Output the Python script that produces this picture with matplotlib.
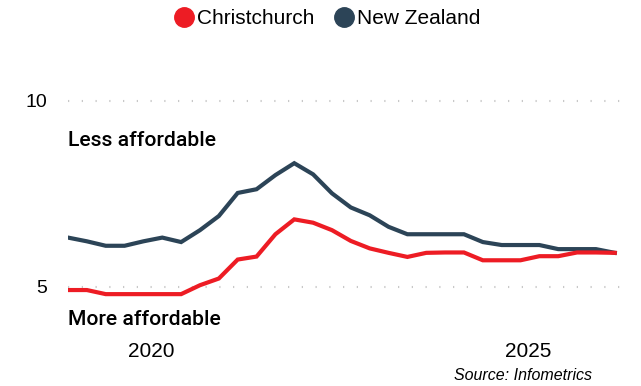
import matplotlib
matplotlib.use("Agg")
import matplotlib.pyplot as plt
import numpy as np

# house price to income ratio, quarterly
start_year = 2018.894
christchurch = [4.91, 4.91, 4.80, 4.80, 4.80, 4.80, 4.80, 5.04, 5.22, 5.73,
                5.81, 6.41, 6.81, 6.72, 6.52, 6.23, 6.03, 5.91, 5.80, 5.91,
                5.92, 5.92, 5.71, 5.71, 5.71, 5.82, 5.82, 5.92, 5.92, 5.91]
new_zealand = [6.32, 6.22, 6.10, 6.10, 6.22, 6.32, 6.20, 6.52, 6.90, 7.52,
               7.62, 8.00, 8.32, 8.02, 7.51, 7.13, 6.92, 6.61, 6.41, 6.41,
               6.41, 6.41, 6.20, 6.12, 6.12, 6.12, 6.01, 6.01, 6.01, 5.91]
years = start_year + 0.25 * np.arange(len(christchurch))
year_ticks = [2020, 2025]

red = "#ED1C24"
navy = "#2C4457"

fig = plt.figure(figsize=(6.41, 3.86), dpi=100)
ax = fig.add_axes([0.1061, 0.1609, 0.8736, 0.6264])

for y in [5, 10]:
    ax.axhline(y, color="#c8c8c8", lw=1.5, ls=(0, (0.6, 6.0)), zorder=0)

ax.plot(years, new_zealand, color=navy, lw=3, solid_joinstyle="miter")
ax.plot(years, christchurch, color=red, lw=3, solid_joinstyle="miter")

ax.set_xlim(start_year, start_year + 29.7 * 0.25)
ax.set_ylim(4, 10.5)
ax.set_yticks([5, 10])
ax.set_yticklabels(["5", "10"], fontsize=14, family="Liberation Sans")
ax.set_xticks(year_ticks)
ax.set_xticklabels([str(y) for y in year_ticks], fontsize=15, family="Liberation Sans")
ax.tick_params(axis="y", length=0, pad=15)
ax.tick_params(axis="x", length=0, pad=13)
for s in ax.spines.values():
    s.set_visible(False)

ax.text(start_year, 8.92, "Less affordable", fontsize=15.2, family="Roboto",
        weight="medium", ha="left", va="center")
ax.text(start_year, 4.13, "More affordable", fontsize=15.2, family="Roboto",
        weight="medium", ha="left", va="center")

fig.text(592 / 641, 1 - 375 / 386, "Source: Infometrics", fontsize=11.5,
         family="Liberation Sans", style="italic", ha="right", va="center")

h1, = ax.plot([], [], "o", color=red, ms=14)
h2, = ax.plot([], [], "o", color=navy, ms=14)
fig.legend([h1, h2], ["Christchurch", "New Zealand"], loc="center",
           bbox_to_anchor=(328 / 641, 1 - 19 / 386), ncol=2, frameon=False,
           handlelength=0.8, handletextpad=0.25, columnspacing=1.0,
           prop={"family": "Liberation Sans", "size": 15})

plt.savefig("out.png", dpi=100)
